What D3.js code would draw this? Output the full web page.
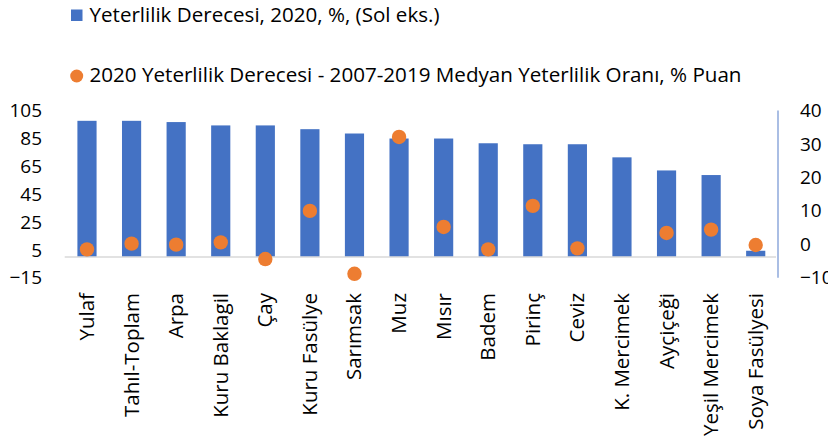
<!DOCTYPE html>
<html>
<head>
<meta charset="utf-8">
<script src="https://cdn.jsdelivr.net/npm/d3@7"></script>
<style>
  html, body { margin: 0; padding: 0; background: #fff; }
  svg { display: block; font-family: "Open Sans", sans-serif; }
</style>
</head>
<body>
<div id="chart"></div>
<script>
// Data
const categories = ["Yulaf", "Tahıl-Toplam", "Arpa", "Kuru Baklagil", "Çay", "Kuru Fasülye",
  "Sarımsak", "Muz", "Mısır", "Badem", "Pirinç", "Ceviz", "K. Mercimek", "Ayçiçeği",
  "Yeşil Mercimek", "Soya Fasülyesi"];
// Yeterlilik Derecesi, 2020, % (left axis)
const yeterlilik2020 = [97.6, 97.6, 96.7, 94.3, 94.3, 91.6, 88.5, 84.9, 84.9, 81.5, 80.8, 80.8,
  71.4, 62, 58.7, 4.4];
// 2020 minus 2007-2019 median, % points (right axis); null = no point
const farkPuan = [-1.5, 0.2, -0.1, 0.6, -4.4, 10.0, -8.8, 32.1, 5.2, -1.5, 11.5, -1.2,
  null, 3.4, 4.4, -0.2];
const leftTicks = [105, 85, 65, 45, 25, 5, -15];
const rightTicks = [40, 30, 20, 10, 0, -10];
const legendLabels = ["Yeterlilik Derecesi, 2020, %, (Sol eks.)",
  "2020 Yeterlilik Derecesi - 2007-2019 Medyan Yeterlilik Oranı, % Puan"];

const W = 828, H = 441;
const plot = { left: 64.7, right: 778, top: 110.5, bottom: 277.8 };
const BLUE = "#4472C4", ORANGE = "#ED7D31";

const svg = d3.select("#chart").append("svg")
  .attr("width", W).attr("height", H).attr("viewBox", `0 0 ${W} ${H}`);

const x = d3.scaleBand().domain(categories).range([plot.left, plot.right]).paddingInner(0.57).paddingOuter(0.285);
const yL = d3.scaleLinear().domain([-15, 105]).range([plot.bottom, plot.top]);
const yR = d3.scaleLinear().domain([-10, 40]).range([plot.bottom, plot.top]);

// bars
svg.append("g").selectAll("rect").data(categories).join("rect")
  .attr("x", d => x(d))
  .attr("width", x.bandwidth())
  .attr("y", (d, i) => yL(yeterlilik2020[i]))
  .attr("height", (d, i) => yL(0) - yL(yeterlilik2020[i]))
  .attr("fill", BLUE);

// horizontal category axis at zero
svg.append("line")
  .attr("x1", plot.left).attr("x2", plot.right - 2)
  .attr("y1", yL(0)).attr("y2", yL(0))
  .attr("stroke", "#d9d9d9").attr("stroke-width", 1.5);

// right axis line
svg.append("line")
  .attr("x1", plot.right).attr("x2", plot.right)
  .attr("y1", plot.top).attr("y2", plot.bottom)
  .attr("stroke", "#8EA9DB").attr("stroke-width", 1.5);

// dots
const pts = categories.map((c, i) => ({ c, v: farkPuan[i] })).filter(d => d.v != null);
svg.append("g").selectAll("circle").data(pts).join("circle")
  .attr("cx", d => x(d.c) + x.bandwidth() / 2)
  .attr("cy", d => yR(d.v))
  .attr("r", 7.2)
  .attr("fill", ORANGE);

// left axis (no line, no ticks)
const axL = svg.append("g").attr("transform", `translate(42,0)`)
  .call(d3.axisLeft(yL).tickValues(leftTicks).tickSize(0).tickPadding(0));
axL.select(".domain").remove();
axL.selectAll("text").attr("font-size", 19).attr("font-family", "Open Sans").attr("fill", "#000");

// right axis
const axR = svg.append("g").attr("transform", `translate(800,0)`)
  .call(d3.axisRight(yR).tickValues(rightTicks).tickSize(0).tickPadding(0));
axR.select(".domain").remove();
axR.selectAll("text").attr("font-size", 19).attr("font-family", "Open Sans").attr("fill", "#000");

// rotated category labels
svg.append("g").selectAll("text").data(categories).join("text")
  .attr("transform", d => `translate(${x(d) + x.bandwidth() / 2 + 7},293) rotate(-90)`)
  .attr("text-anchor", "end")
  .attr("font-size", 20.5)
  .attr("fill", "#000")
  .text(d => d);

// legend
const leg = svg.append("g");
leg.append("rect").attr("x", 71).attr("y", 9.5).attr("width", 11.5).attr("height", 11.5).attr("fill", BLUE);
leg.append("circle").attr("cx", 76.7).attr("cy", 76).attr("r", 6.5).attr("fill", ORANGE);
leg.selectAll("text").data(legendLabels).join("text")
  .attr("x", 89.5)
  .attr("y", (d, i) => i === 0 ? 21.7 : 81.7)
  .attr("font-size", 20)
  .attr("fill", "#000")
  .attr("textLength", (d, i) => i === 0 ? 350 : 652)
  .attr("lengthAdjust", "spacingAndGlyphs")
  .text(d => d);
</script>
</body>
</html>
